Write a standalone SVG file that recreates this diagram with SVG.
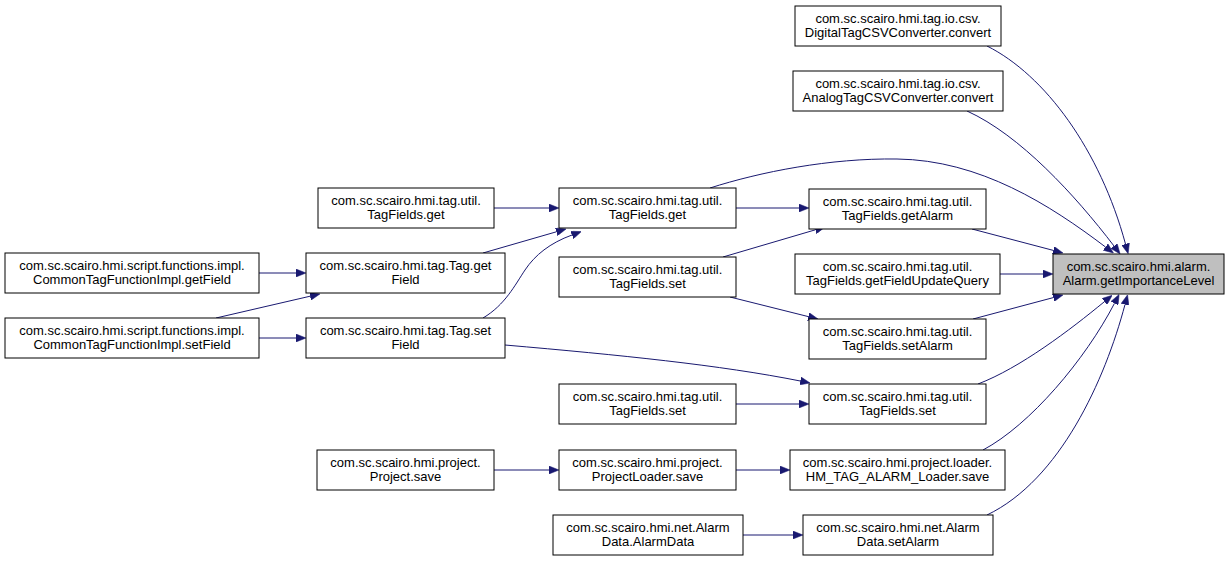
<svg xmlns="http://www.w3.org/2000/svg" width="1229" height="561" viewBox="0 0 1229 561">
<style>
.n rect{fill:#ffffff;stroke:#000000;stroke-width:1}
.n.t rect{fill:#bfbfbf}
.n text{font-family:"Liberation Sans",Arial,sans-serif;font-size:13px;fill:#000;text-anchor:middle}
.e path{fill:none;stroke:#191970;stroke-width:1;marker-end:url(#ah)}
</style>
<defs>
<marker id="ah" viewBox="0 0 10 8" refX="0" refY="4" markerWidth="10" markerHeight="8" markerUnits="userSpaceOnUse" orient="auto">
<path d="M0,0 L10,4 L0,8 z" fill="#191970" stroke="#191970" stroke-width="0.5"/>
</marker>
</defs>
<rect width="1229" height="561" fill="#ffffff"/>
<g id="edges" class="e">
<path d="M987,46 C1045,75 1100,150 1125.5,244"/>
<path d="M967,111 C1020,135 1075,195 1114,246"/>
<path d="M710,188 C760,172 830,158 897,159 C980,160 1050,205 1105.5,247"/>
<path d="M972,229 L1053.3,250.4"/>
<path d="M1000,274 L1043,274"/>
<path d="M973,319 L1053.3,297.6"/>
<path d="M978,384 C1020,368 1070,330 1104.5,301.6"/>
<path d="M983,450 C1030,425 1085,360 1114.5,303.3"/>
<path d="M987,515 C1060,480 1105,380 1125,304.5"/>
<path d="M736,208 L799,208"/>
<path d="M723,257 L815.4,229.8"/>
<path d="M730,297 L808.3,316.6"/>
<path d="M505,345 C620,355 720,365 800.3,381"/>
<path d="M736,404 L799,404"/>
<path d="M736,470 L780,470"/>
<path d="M494,470 L549,470"/>
<path d="M743,535 L793,535"/>
<path d="M494,208 L549,208"/>
<path d="M483,253 L556.4,231.8"/>
<path d="M483,318 C505,305 515,285 525,270 C535,255 550,243 572,235"/>
<path d="M259,273 L296,273"/>
<path d="M216,318 L310.2,296.2"/>
<path d="M259,338 L296,338"/>
</g>
<g id="n_target" class="n t"><rect x="1053" y="254" width="171" height="40"/><text x="1138.5" y="270.5">com.sc.scairo.hmi.alarm.</text><text x="1138.5" y="285">Alarm.getImportanceLevel</text></g>
<g id="n_digital" class="n"><rect x="795" y="6" width="206" height="40"/><text x="898" y="22.5">com.sc.scairo.hmi.tag.io.csv.</text><text x="898" y="37">DigitalTagCSVConverter.convert</text></g>
<g id="n_analog" class="n"><rect x="793" y="71" width="210" height="40"/><text x="898" y="87.5">com.sc.scairo.hmi.tag.io.csv.</text><text x="898" y="102">AnalogTagCSVConverter.convert</text></g>
<g id="n_getAlarm" class="n"><rect x="809" y="189" width="177" height="40"/><text x="897.5" y="205.5">com.sc.scairo.hmi.tag.util.</text><text x="897.5" y="220">TagFields.getAlarm</text></g>
<g id="n_getFieldUpdateQuery" class="n"><rect x="795" y="254" width="205" height="40"/><text x="897.5" y="270.5">com.sc.scairo.hmi.tag.util.</text><text x="897.5" y="285">TagFields.getFieldUpdateQuery</text></g>
<g id="n_setAlarm" class="n"><rect x="809" y="319" width="177" height="40"/><text x="897.5" y="335.5">com.sc.scairo.hmi.tag.util.</text><text x="897.5" y="350">TagFields.setAlarm</text></g>
<g id="n_set_r" class="n"><rect x="809" y="384" width="177" height="40"/><text x="897.5" y="400.5">com.sc.scairo.hmi.tag.util.</text><text x="897.5" y="415">TagFields.set</text></g>
<g id="n_hm" class="n"><rect x="790" y="450" width="215" height="40"/><text x="897.5" y="466.5">com.sc.scairo.hmi.project.loader.</text><text x="897.5" y="481">HM_TAG_ALARM_Loader.save</text></g>
<g id="n_ad_setAlarm" class="n"><rect x="803" y="515" width="190" height="40"/><text x="898" y="531.5">com.sc.scairo.hmi.net.Alarm</text><text x="898" y="546">Data.setAlarm</text></g>
<g id="n_get_m" class="n"><rect x="559" y="188" width="177" height="40"/><text x="647.5" y="204.5">com.sc.scairo.hmi.tag.util.</text><text x="647.5" y="219">TagFields.get</text></g>
<g id="n_set_m1" class="n"><rect x="559" y="257" width="177" height="40"/><text x="647.5" y="273.5">com.sc.scairo.hmi.tag.util.</text><text x="647.5" y="288">TagFields.set</text></g>
<g id="n_set_m2" class="n"><rect x="559" y="384" width="177" height="40"/><text x="647.5" y="400.5">com.sc.scairo.hmi.tag.util.</text><text x="647.5" y="415">TagFields.set</text></g>
<g id="n_projloader" class="n"><rect x="559" y="450" width="177" height="40"/><text x="647.5" y="466.5">com.sc.scairo.hmi.project.</text><text x="647.5" y="481">ProjectLoader.save</text></g>
<g id="n_alarmdata" class="n"><rect x="553" y="515" width="190" height="40"/><text x="648" y="531.5">com.sc.scairo.hmi.net.Alarm</text><text x="648" y="546">Data.AlarmData</text></g>
<g id="n_get_l" class="n"><rect x="318" y="188" width="176" height="40"/><text x="406" y="204.5">com.sc.scairo.hmi.tag.util.</text><text x="406" y="219">TagFields.get</text></g>
<g id="n_tag_getField" class="n"><rect x="306" y="253" width="199" height="40"/><text x="405.5" y="269.5">com.sc.scairo.hmi.tag.Tag.get</text><text x="405.5" y="284">Field</text></g>
<g id="n_tag_setField" class="n"><rect x="306" y="318" width="199" height="40"/><text x="405.5" y="334.5">com.sc.scairo.hmi.tag.Tag.set</text><text x="405.5" y="349">Field</text></g>
<g id="n_projsave" class="n"><rect x="317" y="450" width="177" height="40"/><text x="405.5" y="466.5">com.sc.scairo.hmi.project.</text><text x="405.5" y="481">Project.save</text></g>
<g id="n_ctf_getField" class="n"><rect x="5" y="253" width="254" height="40"/><text x="132" y="269.5">com.sc.scairo.hmi.script.functions.impl.</text><text x="132" y="284">CommonTagFunctionImpl.getField</text></g>
<g id="n_ctf_setField" class="n"><rect x="5" y="318" width="254" height="40"/><text x="132" y="334.5">com.sc.scairo.hmi.script.functions.impl.</text><text x="132" y="349">CommonTagFunctionImpl.setField</text></g>
</svg>
